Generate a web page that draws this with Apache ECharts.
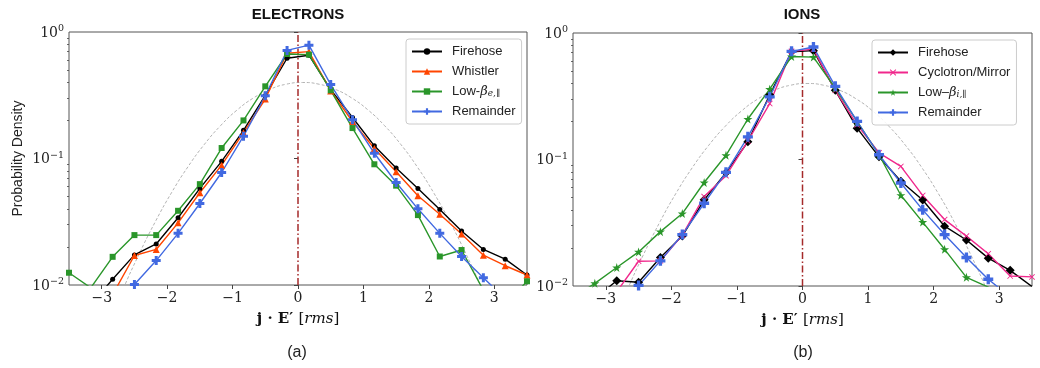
<!DOCTYPE html>
<html>
<head>
<meta charset="utf-8">
<script src="https://cdn.jsdelivr.net/npm/echarts@6/dist/echarts.min.js"></script>
<style>
html,body{margin:0;padding:0;background:#fff;}
#c{width:1040px;height:368px;}
</style>
</head>
<body>
<div id="c"></div>
<script>
// ---- data ----
const bins = [-3.5, -3.167, -2.833, -2.5, -2.167, -1.833, -1.5, -1.167, -0.833, -0.5, -0.167,
              0.167, 0.5, 0.833, 1.167, 1.5, 1.833, 2.167, 2.5, 2.833, 3.167, 3.5];

// Electrons
const eFirehose  = [null, 0.007, 0.0111, 0.0173, 0.0211, 0.034, 0.058, 0.095, 0.167, 0.315, 0.62,
                    0.655, 0.35, 0.211, 0.126, 0.084, 0.058, 0.0396, 0.0267, 0.0191, 0.016, 0.012];
const eWhistler  = [null, null, 0.0084, 0.0171, 0.0191, 0.031, 0.0536, 0.0886, 0.16, 0.295, 0.68,
                    0.70, 0.342, 0.196, 0.12, 0.0787, 0.0508, 0.0363, 0.0253, 0.0172, 0.0142, 0.012];
const eLowBeta   = [0.0125, 0.0095, 0.0167, 0.0248, 0.0248, 0.0386, 0.0627, 0.121, 0.20, 0.372, 0.67,
                    0.662, 0.346, 0.174, 0.09, 0.061, 0.0357, 0.0168, 0.0189, 0.0091, 0.007, 0.0107];
const eRemainder = [null, null, 0.006, 0.0101, 0.0156, 0.0256, 0.0441, 0.0775, 0.15, 0.313, 0.715,
                    0.787, 0.384, 0.202, 0.11, 0.0646, 0.04, 0.0256, 0.0168, 0.0114, 0.0078, null];

// Ions
const iFirehose  = [null, 0.008, 0.011, 0.0107, 0.0168, 0.0248, 0.048, 0.0787, 0.138, 0.325, 0.71,
                    0.725, 0.352, 0.177, 0.105, 0.0672, 0.0479, 0.0297, 0.0231, 0.0166, 0.0133, 0.0099];
const iCyclotron = [null, null, 0.009, 0.0157, 0.0158, 0.0253, 0.0509, 0.0745, 0.14, 0.277, 0.716,
                    0.745, 0.352, 0.188, 0.113, 0.0882, 0.052, 0.0335, 0.0248, 0.018, 0.012, 0.0118];
const iLowBeta   = [0.008, 0.0105, 0.014, 0.0186, 0.0269, 0.0374, 0.0658, 0.108, 0.209, 0.36, 0.652,
                    0.645, 0.367, 0.2, 0.109, 0.0522, 0.032, 0.0195, 0.0117, 0.0098, 0.0075, null];
const iRemainder = [null, null, 0.007, 0.0101, 0.0158, 0.0255, 0.0451, 0.0792, 0.151, 0.313, 0.716,
                    0.775, 0.379, 0.2, 0.109, 0.0652, 0.04, 0.0255, 0.0168, 0.0113, 0.0082, null];

// Reference Gaussian (dashed grey)
const gaussX = [-2.93, -2.68, -2.43, -2.18, -1.93, -1.68, -1.43, -1.18, -0.93, -0.68, -0.43, -0.18, 0.07,
                0.32, 0.57, 0.82, 1.07, 1.32, 1.57, 1.82, 2.07, 2.32, 2.57, 2.82, 3.07];
const gaussY = [0.0044, 0.0091, 0.0175, 0.0317, 0.054, 0.0863, 0.1295, 0.1826, 0.242, 0.3011, 0.3521, 0.3867, 0.3989,
                0.3867, 0.3521, 0.3011, 0.242, 0.1826, 0.1295, 0.0863, 0.054, 0.0317, 0.0175, 0.0091, 0.0044];

const zeroLineX = [0, 0];
const zeroLineY = [0.01, 1];

const xTicks = [-3, -2, -1, 0, 1, 2, 3];
const yMinorTicks = [0.02, 0.03, 0.04, 0.05, 0.06, 0.07, 0.08, 0.09, 0.2, 0.3, 0.4, 0.5, 0.6, 0.7, 0.8, 0.9];

const legendNames = {
  eFire: 'Firehose', eWhis: 'Whistler', eLow: '{n|Low-}{g|β}{s|e,∥}', eRem: 'Remainder',
  iFire: 'Firehose', iCyc: 'Cyclotron/Mirror', iLow: '{n|Low–}{g|β}{s|i,∥}', iRem: 'Remainder'
};

// ---- helpers ----
const pair = (xs, ys) => xs.map((x, i) => [x, ys[i]]);
const SERIF = 'DejaVu Serif';
const SANS = 'Liberation Sans';
const AXC = '#444';

const PLUS = 'path://M4,0H8V4H12V8H8V12H4V8H0V4H4Z';
const XMARK = 'path://M0,1L1,0L5,4L9,0L10,1L6,5L10,9L9,10L5,6L1,10L0,9L4,5Z';
const STAR = 'path://M50,0L61,35L98,35L68,57L79,91L50,70L21,91L32,57L2,35L39,35Z';

function lineSeries(name, data, color, symbol, size, idx) {
  return {
    type: 'line', name: name, xAxisIndex: idx, yAxisIndex: idx,
    data: pair(bins, data), color: color,
    symbol: symbol, symbolSize: size, showSymbol: true, showAllSymbol: true,
    lineStyle: { width: 1.4, color: color }, itemStyle: { color: color },
    clip: true, z: 3, connectNulls: false
  };
}

function gaussSeries(idx) {
  return {
    type: 'line', name: 'gauss' + idx, xAxisIndex: idx, yAxisIndex: idx,
    data: pair(gaussX, gaussY), smooth: true, symbol: 'none', clip: true,
    lineStyle: { width: 0.9, color: '#aaaaaa', type: [3, 2] }, z: 2, silent: true
  };
}

function zeroSeries(idx) {
  return {
    type: 'line', name: 'zero' + idx, xAxisIndex: idx, yAxisIndex: idx,
    data: pair(zeroLineX, zeroLineY), symbol: 'none', clip: true,
    lineStyle: { width: 1.5, color: '#a52a2a', type: [7, 2.5, 1.5, 2.5] }, z: 2, silent: true
  };
}

function xAxis(idx) {
  return {
    type: 'value', gridIndex: idx, min: -3.5, max: 3.5,
    axisLine: { show: false },
    splitLine: { show: false },
    axisTick: { customValues: xTicks, length: 4, lineStyle: { color: AXC, width: 1 } },
    axisLabel: {
      customValues: xTicks, margin: 6, color: '#222', fontFamily: SERIF, fontSize: 14,
      formatter: v => (v < 0 ? '\u2212' + Math.abs(v) : String(v))
    },
    name: '{b|j · E′ }{u|[}{i|rms}{u|]}',
    nameLocation: 'middle', nameGap: 27,
    nameTextStyle: {
      rich: {
        b: { fontFamily: SERIF, fontWeight: 'bold', fontSize: 15, color: '#111' },
        u: { fontFamily: SERIF, fontSize: 15, color: '#111' },
        i: { fontFamily: SERIF, fontStyle: 'italic', fontSize: 15, color: '#111' }
      }
    }
  };
}

function yAxisMajor(idx, withName) {
  const ax = {
    type: 'log', logBase: 10, gridIndex: idx, min: 0.01, max: 1, position: 'left',
    axisLine: { show: false },
    splitLine: { show: false },
    axisTick: { length: 4, lineStyle: { color: AXC, width: 1 } },
    minorTick: { show: false },
    axisLabel: {
      margin: 5, color: '#222',
      formatter: v => {
        const e = Math.round(Math.log10(v));
        return '{b|10}{s|' + (e < 0 ? '\u2212' + (-e) : e) + '}';
      },
      rich: {
        b: { fontFamily: SERIF, fontSize: 14, color: '#222', lineHeight: 16, verticalAlign: 'bottom' },
        s: { fontFamily: SERIF, fontSize: 9.5, color: '#222', lineHeight: 11, verticalAlign: 'top' }
      }
    }
  };
  if (withName) {
    ax.name = 'Probability Density';
    ax.nameLocation = 'middle';
    ax.nameGap = 44;
    ax.nameTextStyle = { fontFamily: SANS, fontSize: 14, color: '#222' };
  }
  return ax;
}

function yAxisMinor(idx) {
  return {
    type: 'log', logBase: 10, gridIndex: idx, min: 0.01, max: 1, position: 'left', offset: 0,
    axisLine: { show: false }, splitLine: { show: false },
    axisLabel: { show: false },
    axisTick: { customValues: yMinorTicks, length: 2, lineStyle: { color: AXC, width: 0.8 } }
  };
}

function legend(idx, names, left, top) {
  return {
    orient: 'vertical', left: left, top: top,
    data: names,
    itemWidth: 30, itemHeight: 8, itemGap: 7,
    padding: [6, 6, 6, 5],
    borderColor: '#cccccc', borderWidth: 1, borderRadius: 3,
    backgroundColor: 'rgba(255,255,255,0.85)',
    formatter: n => legendNames[n],
    textStyle: {
      fontFamily: SANS, fontSize: 13, color: '#222', padding: [0, 0, 0, 5],
      rich: {
        n: { fontFamily: SANS, fontSize: 13, color: '#222' },
        g: { fontFamily: SERIF, fontStyle: 'italic', fontSize: 13, color: '#222' },
        s: { fontFamily: SERIF, fontStyle: 'italic', fontSize: 9, color: '#222', lineHeight: 9, verticalAlign: 'bottom' }
      }
    }
  };
}

const chart = echarts.init(document.getElementById('c'), null, { renderer: 'canvas' });
const option = {
  animation: false,
  backgroundColor: '#fff',
  grid: [
    { left: 69, right: 1040 - 527, top: 32, bottom: 368 - 285, show: true, borderColor: '#555', borderWidth: 1, containLabel: false },
    { left: 573, right: 1040 - 1032, top: 33, bottom: 368 - 286, show: true, borderColor: '#555', borderWidth: 1, containLabel: false }
  ],
  xAxis: [xAxis(0), xAxis(1)],
  yAxis: [yAxisMajor(0, true), yAxisMajor(1, false), yAxisMinor(0), yAxisMinor(1)],
  legend: [
    legend(0, ['eFire', 'eWhis', 'eLow', 'eRem'], 406, 39),
    legend(1, ['iFire', 'iCyc', 'iLow', 'iRem'], 872, 40)
  ],
  series: [
    gaussSeries(0), zeroSeries(0),
    lineSeries('eFire', eFirehose, '#000000', 'circle', 5, 0),
    lineSeries('eWhis', eWhistler, '#ff4500', 'triangle', 7, 0),
    lineSeries('eLow', eLowBeta, '#2a962a', 'rect', 6, 0),
    lineSeries('eRem', eRemainder, '#4169e1', PLUS, 9, 0),
    gaussSeries(1), zeroSeries(1),
    lineSeries('iFire', iFirehose, '#000000', 'diamond', 9, 1),
    lineSeries('iCyc', iCyclotron, '#f0288c', XMARK, 6, 1),
    lineSeries('iLow', iLowBeta, '#2a962a', STAR, 9, 1),
    lineSeries('iRem', iRemainder, '#4169e1', PLUS, 10, 1)
  ],
  graphic: [
    { type: 'text', x: 298, y: 15, style: { text: 'ELECTRONS', fontFamily: SANS, fontWeight: 'bold', fontSize: 15, fill: '#111', align: 'center', verticalAlign: 'middle' } },
    { type: 'text', x: 802, y: 15, style: { text: 'IONS', fontFamily: SANS, fontWeight: 'bold', fontSize: 15, fill: '#111', align: 'center', verticalAlign: 'middle' } },
    { type: 'text', x: 297, y: 353, style: { text: '(a)', fontFamily: SANS, fontSize: 16, fill: '#222', align: 'center', verticalAlign: 'middle' } },
    { type: 'text', x: 803, y: 353, style: { text: '(b)', fontFamily: SANS, fontSize: 16, fill: '#222', align: 'center', verticalAlign: 'middle' } }
  ]
};
chart.setOption(option);
</script>
</body>
</html>
